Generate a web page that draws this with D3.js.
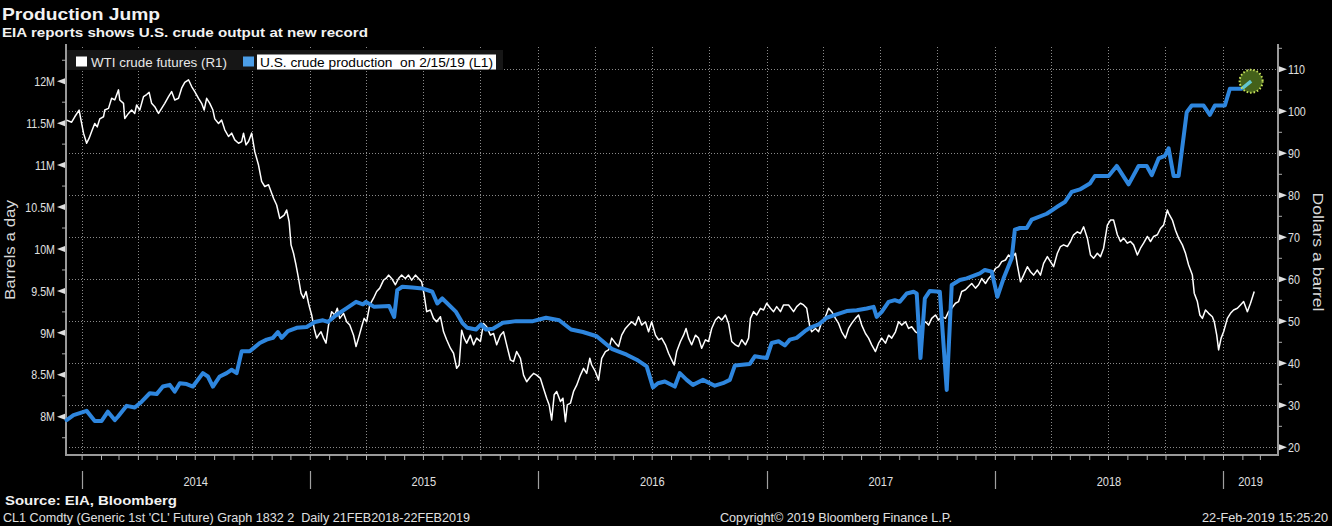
<!DOCTYPE html>
<html><head><meta charset="utf-8">
<script src="https://cdn.jsdelivr.net/npm/d3@7"></script>
<style>html,body{margin:0;padding:0;background:#000;}svg{display:block;}</style>
</head><body><svg id="c" width="1332" height="526"></svg>
<script>
// ---------------- DATA ----------------
// U.S. crude production, weekly (million barrels a day), left axis
const prodDates = ["2013-12-08","2013-12-19","2014-01-09","2014-01-22","2014-02-02","2014-02-12","2014-02-23","2014-02-28","2014-03-14","2014-03-27","2014-04-07","2014-04-20","2014-05-01","2014-05-11","2014-05-22","2014-05-30","2014-06-07","2014-06-18","2014-06-28","2014-07-14","2014-07-22","2014-07-30","2014-08-10","2014-08-21","2014-08-29","2014-09-06","2014-09-14","2014-09-27","2014-10-13","2014-10-24","2014-11-03","2014-11-11","2014-11-17","2014-11-27","2014-12-11","2014-12-27","2015-01-09","2015-01-22","2015-01-30","2015-02-12","2015-02-28","2015-03-16","2015-03-27","2015-04-01","2015-04-14","2015-05-08","2015-05-16","2015-05-21","2015-05-29","2015-06-14","2015-06-30","2015-07-16","2015-07-24","2015-08-01","2015-08-23","2015-09-02","2015-09-10","2015-09-24","2015-10-02","2015-10-10","2015-10-21","2015-11-06","2015-11-27","2015-12-24","2016-01-14","2016-02-04","2016-02-23","2016-03-13","2016-04-04","2016-04-28","2016-05-22","2016-06-07","2016-06-23","2016-07-03","2016-07-11","2016-07-22","2016-08-07","2016-08-15","2016-08-26","2016-09-05","2016-09-21","2016-10-10","2016-10-23","2016-11-03","2016-11-11","2016-12-05","2016-12-13","2017-01-01","2017-01-09","2017-01-20","2017-01-30","2017-02-07","2017-02-18","2017-03-03","2017-03-11","2017-03-25","2017-04-07","2017-04-23","2017-05-09","2017-05-25","2017-06-10","2017-06-21","2017-06-26","2017-07-04","2017-07-15","2017-07-25","2017-08-02","2017-08-13","2017-08-24","2017-08-29","2017-09-04","2017-09-11","2017-09-19","2017-10-05","2017-10-16","2017-10-24","2017-11-06","2017-11-17","2017-12-08","2017-12-16","2017-12-27","2018-01-05","2018-01-15","2018-01-28","2018-02-02","2018-02-10","2018-02-21","2018-03-01","2018-03-25","2018-04-10","2018-04-23","2018-05-04","2018-05-17","2018-06-02","2018-06-10","2018-07-02","2018-07-15","2018-08-03","2018-08-19","2018-09-01","2018-09-09","2018-09-20","2018-09-30","2018-10-06","2018-10-14","2018-10-22","2018-11-04","2018-11-12","2018-12-01","2018-12-11","2018-12-19","2019-01-04","2019-01-12","2019-01-31","2019-02-15"];
const prodValues = [7.96,8.02,8.07,7.95,7.95,8.06,7.96,8.00,8.13,8.11,8.18,8.28,8.27,8.36,8.38,8.30,8.40,8.39,8.36,8.52,8.48,8.36,8.48,8.52,8.56,8.52,8.78,8.78,8.88,8.92,8.94,9.01,8.94,9.02,9.06,9.07,9.13,9.15,9.13,9.21,9.29,9.37,9.34,9.37,9.31,9.32,9.19,9.51,9.55,9.54,9.53,9.49,9.35,9.41,9.25,9.12,9.06,9.04,9.10,9.04,9.05,9.12,9.14,9.14,9.18,9.15,9.04,9.01,8.96,8.81,8.74,8.68,8.60,8.35,8.40,8.42,8.36,8.52,8.44,8.38,8.44,8.37,8.40,8.44,8.61,8.63,8.72,8.70,8.88,8.90,8.85,8.92,8.94,9.02,9.06,9.10,9.18,9.22,9.26,9.27,9.29,9.31,9.19,9.25,9.37,9.39,9.37,9.47,9.49,9.47,8.70,9.41,9.50,9.49,8.32,9.57,9.63,9.65,9.71,9.75,9.73,9.43,9.65,9.89,10.23,10.25,10.25,10.35,10.42,10.50,10.56,10.68,10.71,10.78,10.87,10.87,10.99,10.77,10.99,10.99,10.88,11.08,11.11,11.20,10.87,10.87,11.63,11.71,11.71,11.60,11.71,11.71,11.91,11.91,12.00];

// WTI crude futures (dollars a barrel), right axis; day = days since 2014-01-01
const wtiDays = [-24,-16,-11,-4,-2,3,8,12,16,21,25,29,35,37,43,48,53,59,61,67,69,75,80,85,88,93,99,104,108,112,117,123,128,133,139,144,149,155,160,165,171,176,181,187,192,196,200,205,210,213,219,224,229,235,240,245,251,256,259,263,267,272,277,283,288,293,299,303,307,312,317,324,328,332,335,339,343,347,351,355,359,363,365,368,372,376,379,383,387,391,395,400,405,409,413,419,424,429,435,439,443,448,452,456,461,467,472,477,483,487,491,496,502,507,512,518,523,528,534,539,544,548,552,558,563,568,574,579,584,590,595,600,604,608,612,616,622,627,632,638,643,648,654,659,664,670,675,680,686,691,696,702,707,712,718,723,728,734,739,744,748,752,756,760,766,770,774,777,782,787,792,798,803,808,813,816,822,827,832,838,843,848,854,859,864,870,875,880,886,891,896,902,907,912,918,923,928,934,939,944,948,952,958,963,967,971,976,982,987,992,998,1003,1008,1014,1019,1024,1030,1035,1040,1046,1051,1056,1062,1067,1070,1075,1080,1086,1091,1096,1102,1107,1112,1118,1123,1131,1139,1144,1150,1155,1160,1165,1168,1174,1179,1184,1190,1195,1200,1206,1211,1216,1222,1227,1232,1238,1243,1248,1254,1259,1264,1270,1275,1280,1286,1291,1296,1302,1307,1312,1318,1323,1328,1334,1339,1344,1350,1355,1360,1366,1371,1376,1382,1387,1392,1398,1403,1408,1414,1419,1424,1430,1435,1440,1446,1451,1456,1462,1467,1472,1478,1483,1488,1494,1497,1502,1507,1513,1518,1523,1529,1534,1539,1545,1550,1555,1561,1566,1571,1577,1582,1587,1593,1598,1603,1609,1614,1619,1625,1630,1635,1641,1646,1651,1657,1662,1667,1673,1678,1683,1689,1694,1699,1705,1710,1715,1721,1726,1731,1737,1739,1745,1750,1755,1761,1766,1771,1777,1780,1785,1789,1793,1798,1803,1809,1812,1816,1819,1823,1827,1833,1838,1843,1849,1854,1859,1865,1870,1876];
const wtiPrices = [97.9,97.4,98.7,100.3,98.7,94.8,92.4,93.6,95.2,97.1,96.3,98.2,98.7,100.3,100.7,103.1,102.7,105.1,102.7,101.9,98.3,99.5,100.3,99.5,101.5,100.3,103.5,104.0,104.5,101.9,101.1,99.5,100.7,101.9,103.5,104.7,102.7,103.1,105.5,106.9,107.5,105.9,104.7,103.1,101.9,100.3,103.1,101.9,100.3,98.2,97.1,97.9,95.6,94.0,94.8,93.2,92.4,92.8,94.8,92.0,92.8,94.8,90.4,87.2,83.3,82.1,82.5,80.9,79.3,77.7,74.5,75.3,76.5,73.7,68.2,66.2,63.4,60.2,56.7,55.5,57.1,54.3,53.1,51.5,48.3,46.0,46.7,47.5,46.0,44.8,49.1,52.3,51.5,53.1,50.7,51.9,49.9,49.1,46.7,44.0,46.0,48.7,50.7,49.9,53.9,55.5,57.1,57.9,59.8,60.2,61.0,60.2,58.7,60.2,61.0,60.2,61.0,59.8,61.0,60.2,59.4,56.3,52.3,52.7,50.7,49.9,51.1,47.5,45.6,43.6,42.4,38.8,39.6,47.9,46.0,44.8,46.7,44.4,46.0,45.2,49.5,48.7,46.7,47.1,44.4,46.7,47.5,44.4,40.8,40.4,42.8,41.2,37.2,35.6,36.8,37.6,37.2,36.4,34.0,31.7,30.1,26.5,32.5,33.3,30.9,31.7,26.1,30.1,30.5,33.3,34.8,37.2,38.8,37.6,41.2,39.6,38.0,36.0,41.2,42.8,43.2,46.0,44.8,44.0,46.7,48.3,49.1,49.9,49.1,51.1,49.1,49.9,47.5,49.9,46.7,45.6,46.0,44.4,42.4,40.8,39.6,42.8,45.2,46.7,48.3,46.0,44.4,46.7,46.0,43.6,45.6,45.2,48.3,50.3,51.1,50.3,51.5,49.5,45.2,44.4,44.0,45.6,44.4,46.0,50.7,52.3,51.5,53.1,52.7,54.3,53.1,52.3,53.5,52.3,53.9,53.9,52.3,53.5,54.3,53.9,53.1,48.7,47.5,48.3,47.5,49.9,51.1,53.1,52.3,50.7,49.5,47.5,46.0,48.3,49.5,50.7,51.5,49.1,47.1,46.0,44.4,42.8,44.8,46.0,44.8,46.7,46.0,47.5,49.9,49.1,49.9,48.3,48.7,47.5,47.1,49.1,49.9,49.1,50.7,51.5,50.3,51.1,50.7,52.3,53.1,54.3,54.7,57.1,57.5,58.3,59.0,57.9,58.7,60.2,59.0,60.2,61.0,62.6,63.0,64.2,64.6,65.8,65.0,66.2,63.4,59.4,61.0,63.0,61.8,61.0,62.2,61.0,63.8,65.4,64.2,63.0,66.2,67.8,68.2,67.8,69.0,70.6,71.3,70.9,72.5,69.8,65.8,65.0,66.2,65.4,67.4,72.9,74.1,74.1,70.6,69.0,69.8,68.6,69.0,68.2,65.8,67.4,68.6,70.2,69.0,70.2,70.6,72.1,72.9,76.5,75.7,74.1,71.7,69.8,68.2,66.2,63.4,61.0,56.7,54.7,51.5,50.7,52.7,51.9,51.1,49.9,46.7,43.2,46.0,47.5,50.7,51.9,52.7,53.1,53.9,54.7,52.3,54.3,57.1];

const leftTicks = [8,8.5,9,9.5,10,10.5,11,11.5,12];          // millions
const leftTickLabels = ["8M","8.5M","9M","9.5M","10M","10.5M","11M","11.5M","12M"];
const leftMinor = [7.75,8.25,8.75,9.25,9.75,10.25,10.75,11.25,11.75,12.25];
const rightTicks = [20,30,40,50,60,70,80,90,100,110];
const rightMinor = [25,35,45,55,65,75,85,95,105,115];
const yearLabels = ["2014","2015","2016","2017","2018","2019"];
const seriesNames = ["WTI crude futures (R1)","U.S. crude production  on 2/15/19 (L1)"];

// ---------------- CHART ----------------
const FONT = "'Liberation Sans', Arial, sans-serif";
const svg = d3.select("#c");
svg.append("rect").attr("width",1332).attr("height",526).attr("fill","#000");

const L = 66, R = 1278, T = 47, B = 455;
const epoch = new Date(Date.UTC(2014,0,1));
const parse = d3.utcParse("%Y-%m-%d");
const x = d3.scaleUtc().domain([d3.utcDay.offset(epoch,-25), d3.utcDay.offset(epoch,1914)]).range([L,R]);
const yL = d3.scaleLinear().domain([7.544,12.408]).range([B,T]);
const yR = d3.scaleLinear().domain([18.17,115.31]).range([B,T]);

function condense(sel, f){ sel.each(function(){ const n=this; const w=n.getComputedTextLength(); d3.select(n).attr("textLength", w*f).attr("lengthAdjust","spacingAndGlyphs"); }); }
function fitTo(sel, w){ sel.attr("textLength", w).attr("lengthAdjust","spacingAndGlyphs"); }

// grid
const grid = svg.append("g").attr("stroke","#8a8a8a").attr("stroke-width",1).attr("stroke-dasharray","1,2");
grid.selectAll("line.h").data(rightTicks).join("line").attr("class","h")
  .attr("x1",L).attr("x2",R).attr("y1",d=>Math.round(yR(d))+0.5).attr("y2",d=>Math.round(yR(d))+0.5);
const quarters = d3.utcMonth.every(3).range(epoch, x.domain()[1]).filter(d=>d<=x.domain()[1]);
grid.selectAll("line.v").data(quarters).join("line").attr("class","v")
  .attr("y1",T).attr("y2",B).attr("x1",d=>Math.round(x(d))+0.5).attr("x2",d=>Math.round(x(d))+0.5);

// axis lines
svg.append("line").attr("x1",L).attr("x2",L).attr("y1",T-3).attr("y2",B).attr("stroke","#9a9a9a").attr("stroke-width",2);
svg.append("line").attr("x1",R).attr("x2",R).attr("y1",T-3).attr("y2",B).attr("stroke","#9a9a9a").attr("stroke-width",2);
svg.append("line").attr("x1",L-1).attr("x2",R+1).attr("y1",B).attr("y2",B).attr("stroke","#9a9a9a").attr("stroke-width",2);

// bottom month ticks via axis
const months = d3.utcMonth.range(d3.utcMonth.ceil(x.domain()[0]), x.domain()[1]);
const xAxis = d3.axisBottom(x).tickValues(months).tickSize(5).tickFormat("");
const gx = svg.append("g").attr("transform",`translate(0,${B})`).call(xAxis);
gx.select(".domain").remove();
gx.selectAll(".tick line").attr("stroke","#b0b0b0").attr("stroke-width",1);

// year separators and labels
const years = yearLabels.map(s=>parse(s+"-01-01"));
svg.append("g").selectAll("line").data(years).join("line")
  .attr("x1",d=>Math.round(x(d))+0.5).attr("x2",d=>Math.round(x(d))+0.5).attr("y1",471).attr("y2",489)
  .attr("stroke","#a0a0a0").attr("stroke-width",1.2);
const yl = svg.append("g").selectAll("text").data(yearLabels).join("text")
  .attr("x",(s,i)=>{const a=Math.max(x(years[i]),L); const b=Math.min(x(d3.utcYear.offset(years[i],1)),R); return (a+b)/2;})
  .attr("y",485.5).attr("text-anchor","middle").attr("fill","#e0e0e0")
  .style("font-family",FONT).style("font-size","13px").text(s=>s);
condense(yl,0.85);

// left axis
const gl = svg.append("g");
gl.selectAll("line").data(leftMinor).join("line").attr("x1",L-4).attr("x2",L).attr("y1",d=>yL(d)).attr("y2",d=>yL(d)).attr("stroke","#aaa");
gl.selectAll("path").data(leftTicks).join("path").attr("d",d=>`M${L-1},${yL(d)-3}L${L-1},${yL(d)+3}L${L-9},${yL(d)}Z`).attr("fill","#e0e0e0");
const ltl = gl.selectAll("text").data(leftTicks).join("text").attr("x",L-11).attr("y",d=>yL(d)).attr("dy","0.36em")
  .attr("text-anchor","end").attr("fill","#e0e0e0").style("font-family",FONT).style("font-size","13px")
  .text((d,i)=>leftTickLabels[i]);
condense(ltl,0.82);

// right axis
const gr = svg.append("g");
gr.selectAll("line").data(rightMinor).join("line").attr("x1",R).attr("x2",R+4).attr("y1",d=>yR(d)).attr("y2",d=>yR(d)).attr("stroke","#aaa");
gr.selectAll("path").data(rightTicks).join("path").attr("d",d=>`M${R+1},${yR(d)-3}L${R+1},${yR(d)+3}L${R+9},${yR(d)}Z`).attr("fill","#e0e0e0");
const rtl = gr.selectAll("text").data(rightTicks).join("text").attr("x",R+10).attr("y",d=>yR(d)).attr("dy","0.36em")
  .attr("fill","#e0e0e0").style("font-family",FONT).style("font-size","13px").text(d=>d);
condense(rtl,0.82);

// axis titles
svg.append("text").attr("transform","translate(15,250) rotate(-90)").attr("text-anchor","middle")
  .attr("fill","#d8d8d8").style("font-family",FONT).style("font-size","15px").text("Barrels a day").call(fitTo,100);
svg.append("text").attr("transform","translate(1313,252) rotate(90)").attr("text-anchor","middle")
  .attr("fill","#d8d8d8").style("font-family",FONT).style("font-size","15px").text("Dollars a barrel").call(fitTo,119);

// WTI line
const wti = wtiDays.map((d,i)=>({date:d3.utcDay.offset(epoch,d), v:wtiPrices[i]}));
svg.append("path").datum(wti).attr("fill","none").attr("stroke","#ffffff").attr("stroke-width",1.5).attr("stroke-linejoin","round")
  .attr("d",d3.line().x(d=>x(d.date)).y(d=>yR(d.v)));

// production line
const prod = prodDates.map((s,i)=>({date:parse(s), v:prodValues[i]}));
const prodLine = d3.line().x(d=>x(d.date)).y(d=>yL(d.v));
svg.append("path").datum(prod).attr("fill","none").attr("stroke","#2e86de").attr("stroke-width",4).attr("stroke-linejoin","round").attr("stroke-linecap","round")
  .attr("d",prodLine);

// last value highlight
const last = prod[prod.length-1];
const cx = x(last.date), cy = yL(last.v);
svg.append("clipPath").attr("id","hl").append("circle").attr("cx",cx).attr("cy",cy).attr("r",11.5);
svg.append("circle").attr("cx",cx).attr("cy",cy).attr("r",11.5).attr("fill","#44611a");
svg.append("path").datum(prod).attr("clip-path","url(#hl)").attr("fill","none").attr("stroke","#62c6cf").attr("stroke-width",3.5).attr("d",prodLine);
svg.append("circle").attr("cx",cx).attr("cy",cy).attr("r",11.5).attr("fill","none").attr("stroke","#c8e35a").attr("stroke-width",2).attr("stroke-dasharray","1.5,2");

// legend
const lg = svg.append("g");
lg.append("rect").attr("x",L+1).attr("y",50).attr("width",436).attr("height",20).attr("fill","#161616");
lg.append("rect").attr("x",76).attr("y",56.5).attr("width",11).attr("height",10).attr("fill","#ffffff");
lg.append("text").attr("x",91).attr("y",66.5).attr("fill","#e8e8e8").style("font-family",FONT).style("font-size","12.5px").text(seriesNames[0]).call(fitTo,136);
lg.append("rect").attr("x",243).attr("y",56.5).attr("width",11).attr("height",10).attr("fill","#4c9ee8");
lg.append("rect").attr("x",257).attr("y",54.5).attr("width",239).attr("height",15).attr("fill","#ffffff");
lg.append("text").attr("x",260).attr("y",66.5).attr("fill","#000").style("white-space","pre").style("font-family",FONT).style("font-size","12.5px").text(seriesNames[1]).call(fitTo,233);

// titles
svg.append("text").attr("x",2).attr("y",20).attr("fill","#f2f2f2").style("font-family",FONT).style("font-weight","bold").style("font-size","16.5px").text("Production Jump").call(fitTo,158);
svg.append("text").attr("x",2).attr("y",36.7).attr("fill","#f2f2f2").style("font-family",FONT).style("font-weight","bold").style("font-size","12px").text("EIA reports shows U.S. crude output at new record").call(fitTo,366);

// footer
svg.append("text").attr("x",5).attr("y",504.5).attr("fill","#f2f2f2").style("font-family",FONT).style("font-weight","bold").style("font-size","12.5px").text("Source: EIA, Bloomberg").call(fitTo,172);
svg.append("text").attr("x",3).attr("y",522).attr("fill","#e0e0e0").style("white-space","pre").style("font-family",FONT).style("font-size","12.5px").text("CL1 Comdty (Generic 1st 'CL' Future) Graph 1832 2  Daily 21FEB2018-22FEB2019").call(fitTo,467);
svg.append("text").attr("x",720).attr("y",522).attr("fill","#e0e0e0").style("font-family",FONT).style("font-size","12.5px").text("Copyright\u00A9 2019 Bloomberg Finance L.P.").call(fitTo,232);
svg.append("text").attr("x",1328).attr("y",522).attr("text-anchor","end").attr("fill","#e0e0e0").style("font-family",FONT).style("font-size","12.5px").text("22-Feb-2019 15:25:20").call(fitTo,126);
</script></body></html>
